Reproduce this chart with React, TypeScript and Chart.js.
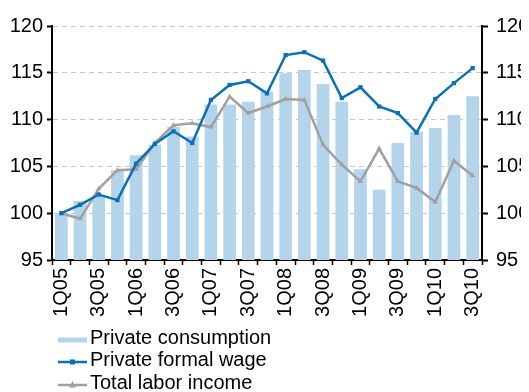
import React, { useEffect, useRef } from "react";
import { Chart, registerables } from "chart.js";

Chart.register(...registerables);

const quarters = [
  "1Q05", "2Q05", "3Q05", "4Q05", "1Q06", "2Q06", "3Q06", "4Q06",
  "1Q07", "2Q07", "3Q07", "4Q07", "1Q08", "2Q08", "3Q08", "4Q08",
  "1Q09", "2Q09", "3Q09", "4Q09", "1Q10", "2Q10", "3Q10",
];

const privateConsumption = [
  100.0, 101.3, 101.9, 104.6, 106.2, 107.3, 109.2, 108.2, 111.6, 111.6, 111.9, 113.0,
  114.95, 115.3, 113.8, 111.9, 104.7, 102.5, 107.5, 108.7, 109.1, 110.5, 112.5,
];

const privateFormalWage = [
  100.0, 100.9, 102.0, 101.4, 105.3, 107.4, 108.75, 107.5, 112.1, 113.7, 114.1, 112.8,
  116.9, 117.2, 116.3, 112.3, 113.45, 111.4, 110.7, 108.6, 112.2, 113.9, 115.5,
];

const totalLaborIncome = [
  100.0, 99.4, 102.6, 104.6, 104.7, 107.5, 109.4, 109.6, 109.2, 112.45, 110.7, 111.4,
  112.2, 112.1, 107.3, 105.2, 103.4, 106.9, 103.4, 102.7, 101.2, 105.6, 104.0,
];

const yMin = 95;
const yMax = 120;
const yStep = 5;

const FONT = "'Liberation Sans', Arial, sans-serif";
const BAR_COLOR = "#B4D4EB";
const BLUE = "#0A70B8";
const GRAY = "#A0A0A0";

const decorPlugin = {
  id: "decor",
  afterDraw(chart: any) {
    const ctx = chart.ctx;
    ctx.save();
    // top rule
    ctx.fillStyle = "#000";
    ctx.fillRect(0, 0, 519, 2);

    const ds = chart.data.datasets;
    const x0 = 50;
    const x1 = 79;
    const tx = 82;
    const rows = [340, 362, 385];
    ctx.font = `20px ${FONT}`;
    ctx.textBaseline = "middle";
    ctx.textAlign = "left";
    ds.forEach((d: any, i: number) => {
      const y = rows[i];
      if (i === 0) {
        ctx.strokeStyle = BAR_COLOR;
        ctx.lineWidth = 5;
        ctx.beginPath();
        ctx.moveTo(x0, y);
        ctx.lineTo(x1, y);
        ctx.stroke();
      } else {
        const c = i === 1 ? BLUE : GRAY;
        ctx.strokeStyle = c;
        ctx.fillStyle = c;
        ctx.lineWidth = 2.5;
        ctx.beginPath();
        ctx.moveTo(x0, y);
        ctx.lineTo(x1, y);
        ctx.stroke();
        const cx = (x0 + x1) / 2;
        if (i === 1) {
          ctx.fillRect(cx - 2.5, y - 2.5, 5, 5);
        } else {
          ctx.beginPath();
          ctx.moveTo(cx, y - 4);
          ctx.lineTo(cx + 3.5, y + 2.5);
          ctx.lineTo(cx - 3.5, y + 2.5);
          ctx.closePath();
          ctx.fill();
        }
      }
      ctx.fillStyle = "#000";
      ctx.fillText(d.label, tx, y - 2);
    });
    ctx.restore();
  },
};

export default function App() {
  const ref = useRef<HTMLCanvasElement | null>(null);

  useEffect(() => {
    if (!ref.current) return;
    const chart = new Chart(ref.current, {
      type: "bar",
      data: {
        labels: quarters,
        datasets: [
          {
            type: "bar",
            label: "Private consumption",
            data: privateConsumption,
            backgroundColor: BAR_COLOR,
            borderWidth: 0,
            categoryPercentage: 1,
            barPercentage: 0.68,
            order: 3,
            yAxisID: "y",
          },
          {
            type: "line",
            label: "Private formal wage",
            data: privateFormalWage,
            borderColor: BLUE,
            backgroundColor: BLUE,
            borderWidth: 2.5,
            pointStyle: "rect",
            pointRadius: 3,
            pointBackgroundColor: BLUE,
            pointBorderWidth: 0,
            tension: 0,
            order: 1,
            yAxisID: "y",
          },
          {
            type: "line",
            label: "Total labor income",
            data: totalLaborIncome,
            borderColor: GRAY,
            backgroundColor: GRAY,
            borderWidth: 2.5,
            pointStyle: "triangle",
            pointRadius: 3,
            pointBackgroundColor: GRAY,
            pointBorderWidth: 0,
            tension: 0,
            order: 2,
            yAxisID: "y",
          },
        ],
      },
      options: {
        responsive: false,
        animation: false,
        events: [],
        layout: { padding: { top: 26, bottom: 80, left: 0, right: 0 } },
        plugins: {
          legend: { display: false },
          tooltip: { enabled: false },
          title: { display: false },
        },
        scales: {
          x: {
            offset: true,
            grid: {
              display: true,
              offset: true,
              drawOnChartArea: false,
              drawTicks: true,
              tickLength: 5,
              tickColor: "#000",
              tickWidth: 1.5,
            },
            border: { display: true, color: "#000", width: 2 },
            ticks: {
              autoSkip: false,
              minRotation: 90,
              maxRotation: 90,
              padding: 3,
              color: "#000",
              font: { family: FONT, size: 20 },
              callback: (_v: any, i: number) => (i % 2 === 0 ? quarters[i] : ""),
            },
            afterFit: (s: any) => {
              s.height = 60;
            },
          },
          y: {
            position: "left",
            min: yMin,
            max: yMax,
            ticks: {
              stepSize: yStep,
              padding: 4,
              color: "#000",
              font: { family: FONT, size: 20 },
            },
            grid: {
              color: "#C8C8C8",
              lineWidth: 1,
              borderDash: [5, 4],
              drawTicks: true,
              tickLength: 5,
              tickColor: "#000",
              tickWidth: 2,
              tickBorderDash: [],
            } as any,
            border: { display: true, color: "#000", width: 2, dash: [5, 4] } as any,
            afterFit: (s: any) => {
              s.width = 44;
            },
          },
          y1: {
            position: "right",
            min: yMin,
            max: yMax,
            ticks: {
              stepSize: yStep,
              padding: 8,
              color: "#000",
              font: { family: FONT, size: 20 },
            },
            grid: {
              drawOnChartArea: false,
              drawTicks: true,
              tickLength: 6,
              tickColor: "#000",
              tickWidth: 2,
            },
            border: { display: true, color: "#000", width: 2 },
            afterFit: (s: any) => {
              s.width = 47;
            },
          },
        },
      },
      plugins: [decorPlugin],
    });
    return () => chart.destroy();
  }, []);

  return (
    <div style={{ marginTop: -8, width: 521, height: 400 }}>
      <canvas ref={ref} width={521} height={400} style={{ width: 521, height: 400, display: "block" }} />
    </div>
  );
}
